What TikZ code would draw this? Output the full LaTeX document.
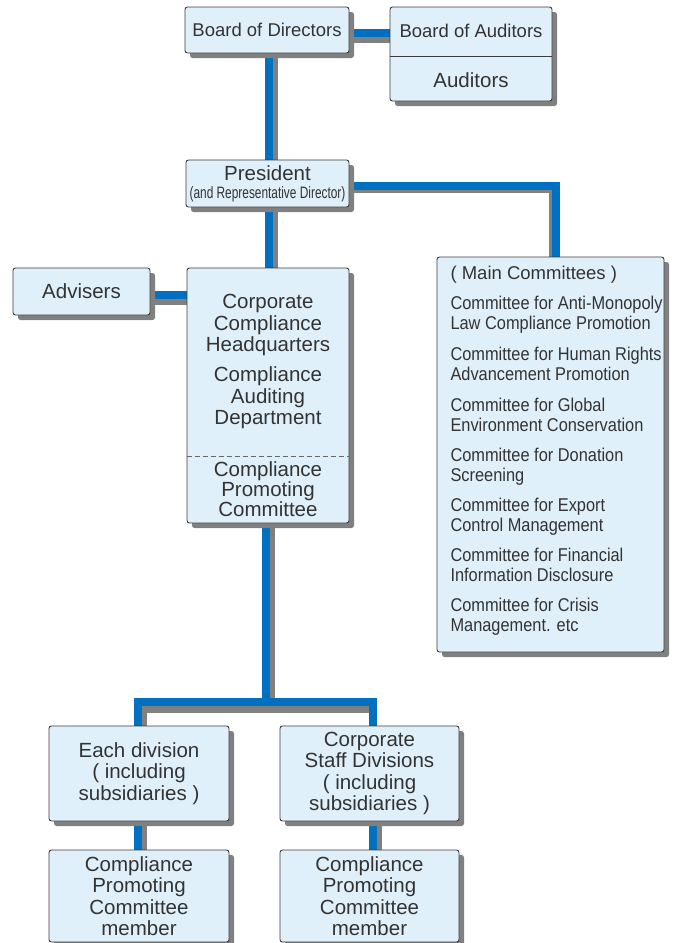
\documentclass[tikz,border=0pt]{standalone}
\usepackage{fontspec}
\setmainfont{Liberation Sans}
\newfontfamily\narrowfont[FakeStretch=0.885]{Liberation Sans}
\newfontfamily\condfont[FakeStretch=0.72]{Liberation Sans}
\usetikzlibrary{shadows,backgrounds}
\definecolor{bar-blue}{HTML}{0070C0}
\definecolor{bar-gray}{HTML}{808080}
\definecolor{box-fill}{HTML}{E0F0FA}
\definecolor{box-line}{HTML}{3C3C3C}
\definecolor{ink}{HTML}{333333}

\begin{document}
\begin{tikzpicture}[x=1pt, y=-1pt,
      every node/.style={text=ink, align=center, font=\fontsize{20.5}{21.5}\selectfont},
      box/.style={draw=box-line, fill=box-fill, line width=0.9pt, rounded corners=2.5pt,
        inner sep=0pt, drop shadow={shadow xshift=5pt, shadow yshift=-5pt,
        fill=bar-gray, opacity=1}},
      bar/.style={draw=bar-blue, line width=8pt},
      barshade/.style={draw=bar-gray, line width=8pt}]
    \useasboundingbox (0,0) rectangle (676,943);

    % top row
    \node[box, font=\fontsize{18.5}{20}\selectfont, minimum width=164pt, minimum height=46pt]
      (bod) at (267,30) {Board of Directors};
    \node[box, minimum width=162pt, minimum height=94pt] (boa) at (471,54) {};
    \node[font=\fontsize{18.5}{20}\selectfont] (boatitle) at (471,31) {Board of Auditors};
    \node (auditors) at (471,80) {Auditors};
    \draw[box-line, line width=0.9pt] (boa.west |- 0,56) -- (boa.east |- 0,56);

    % president
    \node[box, minimum width=163pt, minimum height=47pt] (pres) at (267.5,183.5) {};
    \node (prestitle) at (267.5,173) {President};
    \node[font=\condfont\fontsize{16.5}{18}\selectfont] (presnote) at (267.5,194)
      {(and Representative Director)};

    % middle row
    \node[box, minimum width=137pt, minimum height=47pt] (adv) at (81.5,291.5) {Advisers};
    \node[box, minimum width=162pt, minimum height=255pt] (hq) at (268,395.5) {};
    \node (hqtext) at (268,361.5)
      {Corporate\\Compliance\\Headquarters\\[8.5pt]Compliance\\Auditing\\Department};
    \draw[bar-gray!80!black, line width=0.8pt, dash pattern=on 5pt off 3pt]
      (hq.west |- 0,456) -- (hq.east |- 0,456);
    \node[font=\fontsize{20.5}{18}\selectfont] (hqcomm) at (268,489)
      {Compliance\\Promoting\\Committee};

    \node[box, minimum width=227pt, minimum height=395pt] (mc) at (550.5,454.5) {};
    \node[anchor=west, align=left, font=\narrowfont\fontsize{18.5}{20}\selectfont]
      (mclist) at (447,451)
      {{\rmfamily ( Main Committees )}\\[10pt]
       Committee for Anti-Monopoly\\Law Compliance Promotion\\[11pt]
       Committee for Human Rights\\Advancement Promotion\\[11pt]
       Committee for Global\\Environment Conservation\\[10pt]
       Committee for Donation\\Screening\\[10pt]
       Committee for Export\\Control Management\\[10pt]
       Committee for Financial\\Information Disclosure\\[10pt]
       Committee for Crisis\\Management. etc};

    % divisions
    \node[box, minimum width=180pt, minimum height=95pt] (div1) at (139,773.5)
      {Each division\\( including\\subsidiaries )};
    \node[box, minimum width=179pt, minimum height=95pt] (div2) at (369.5,773.5)
      {Corporate\\Staff Divisions\\( including\\subsidiaries )};
    \node[box, minimum width=180pt, minimum height=92pt] (mem1) at (139,896)
      {Compliance\\Promoting\\Committee\\member};
    \node[box, minimum width=179pt, minimum height=92pt] (mem2) at (369.5,896)
      {Compliance\\Promoting\\Committee\\member};

    \coordinate (split) at (266,702);

    \begin{scope}[on background layer]
      % shades first
      \draw[barshade] (bod.east |- 0,39) -- (boa.west |- 0,39);
      \draw[barshade] ([xshift=7pt]bod.south) -- ([xshift=7pt]bod.south |- pres.north);
      \draw[barshade] ([xshift=6.5pt]pres.south) -- ([xshift=6.5pt]pres.south |- hq.north);
      \draw[barshade] (pres.east |- 0,189) -| ([xshift=2pt]mc.north);
      \draw[barshade] (adv.east |- 0,301) -- (hq.west |- 0,301);
      \draw[barshade] ([xshift=3pt]hq.south) -- ([shift={(5,7)}]split)
        -| ([xshift=4pt]div1.north)
        ([shift={(5,7)}]split) -- (373,709);
      \draw[barshade] ([xshift=3.5pt]div1.south) -- ([xshift=3.5pt]mem1.north);
      \draw[barshade] ([xshift=8.5pt]div2.south) -- ([xshift=8.5pt]mem2.north);
      % blue bars
      \draw[bar] (bod.east |- 0,32.5) -- (boa.west |- 0,32.5);
      \draw[bar] ([xshift=2pt]bod.south) -- ([xshift=2pt]bod.south |- pres.north);
      \draw[bar] ([xshift=1.5pt]pres.south) -- ([xshift=1.5pt]pres.south |- hq.north);
      \draw[bar] (pres.east |- 0,185.5) -| ([xshift=5pt]mc.north);
      \draw[bar] (adv.east |- 0,295) -- (hq.west |- 0,295);
      \draw[bar] ([xshift=-2pt]hq.south) -- (split)
        (split) -| ([xshift=-1pt]div1.north)
        (split) -| ([xshift=3.5pt]div2.north);
      \draw[bar] ([xshift=-1.5pt]div1.south) -- ([xshift=-1.5pt]mem1.north);
      \draw[bar] ([xshift=3.5pt]div2.south) -- ([xshift=3.5pt]mem2.north);
    \end{scope}
  \end{tikzpicture}
\end{document}
